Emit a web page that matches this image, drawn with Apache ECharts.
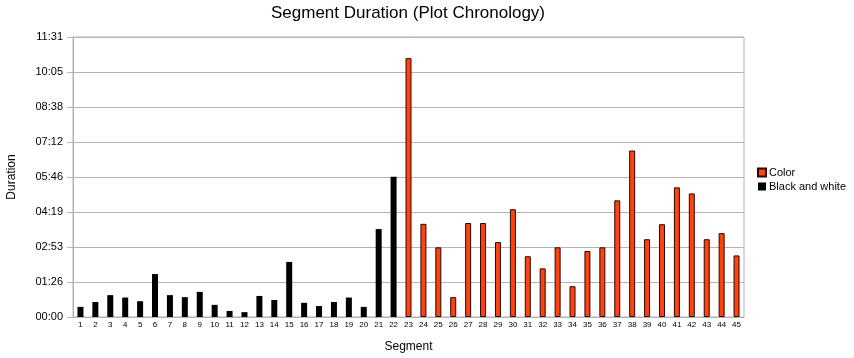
<!DOCTYPE html>
<html>
<head>
<meta charset="utf-8">
<script src="https://cdn.jsdelivr.net/npm/echarts@6/dist/echarts.min.js"></script>
<style>html,body{margin:0;padding:0;background:#fff}#c{width:854px;height:358px}</style>
</head>
<body>
<div id="c"></div>
<script>
// Segment numbers
const segments = Array.from({length: 45}, (_, i) => String(i + 1));
// Durations in seconds
const blackAndWhite = [25, 37, 54, 48, 39, 106, 54, 49, 62, 30, 15, 12, 52, 42, 136, 35, 27, 37, 48, 25, 217, 346];
const color = [639, 230, 172, 49, 232, 232, 185, 266, 150, 120, 172, 76, 163, 172, 288, 411, 192, 229, 320, 305, 192, 207, 152];
// y axis: 0.001 day steps (86.4 s), labels 00:00 … 11:31
const yMax = 691.2, yStep = 86.4;

const bwData = segments.map((s, i) => i < blackAndWhite.length ? blackAndWhite[i] : '-');
const colorData = segments.map((s, i) => i >= blackAndWhite.length ? color[i - blackAndWhite.length] : '-');

function fmt(v) {
  const t = Math.round(v);
  const m = Math.floor(t / 60), s = t % 60;
  return String(m).padStart(2, '0') + ':' + String(s).padStart(2, '0');
}

const FONT = 'Liberation Sans, Arial, sans-serif';
const chart = echarts.init(document.getElementById('c'), null, {renderer: 'canvas'});
chart.setOption({
  animation: false,
  textStyle: {fontFamily: FONT},
  title: {
    text: 'Segment Duration (Plot Chronology)',
    left: 271, top: 5, padding: 0,
    textStyle: {fontSize: 17, fontWeight: 'normal', color: '#000', fontFamily: FONT}
  },
  legend: {
    orient: 'vertical', left: 757, top: 167, padding: 0,
    itemWidth: 8, itemHeight: 8, itemGap: 3,
    icon: 'rect',
    textStyle: {fontSize: 11, color: '#000', fontFamily: FONT, padding: [0, 0, 0, -2]},
    data: ['Color', 'Black and white']
  },
  grid: {
    left: 73, right: 110, top: 37, bottom: 41,
    containLabel: false, outerBoundsMode: 'none',
    show: true, borderColor: '#b3b3b3', borderWidth: 1, backgroundColor: 'transparent'
  },
  xAxis: {
    type: 'category', data: segments,
    name: 'Segment', nameLocation: 'middle', nameGap: 24,
    nameTextStyle: {fontSize: 12, color: '#000', fontFamily: FONT},
    axisLine: {lineStyle: {color: '#b3b3b3'}},
    axisTick: {show: false},
    axisLabel: {interval: 0, fontSize: 8, color: '#000', margin: 4, fontFamily: FONT}
  },
  yAxis: {
    type: 'value', min: 0, max: yMax, interval: yStep,
    name: 'Duration', nameLocation: 'middle', nameGap: 55, nameRotate: 90,
    nameTextStyle: {fontSize: 12, color: '#000', fontFamily: FONT},
    axisLine: {show: true, lineStyle: {color: '#b3b3b3'}},
    axisTick: {show: true, length: 6, lineStyle: {color: '#b3b3b3'}},
    axisLabel: {formatter: fmt, fontSize: 11, color: '#000', margin: 10, fontFamily: FONT},
    splitLine: {lineStyle: {color: '#b3b3b3'}}
  },
  series: [
    {
      name: 'Color', type: 'bar', stack: 'a', barWidth: 6, data: colorData,
      itemStyle: {color: '#ff420e', borderColor: '#2a0800', borderWidth: 1}
    },
    {
      name: 'Black and white', type: 'bar', stack: 'a', barWidth: 6, data: bwData,
      itemStyle: {color: '#000000'}
    }
  ]
});
</script>
</body>
</html>
